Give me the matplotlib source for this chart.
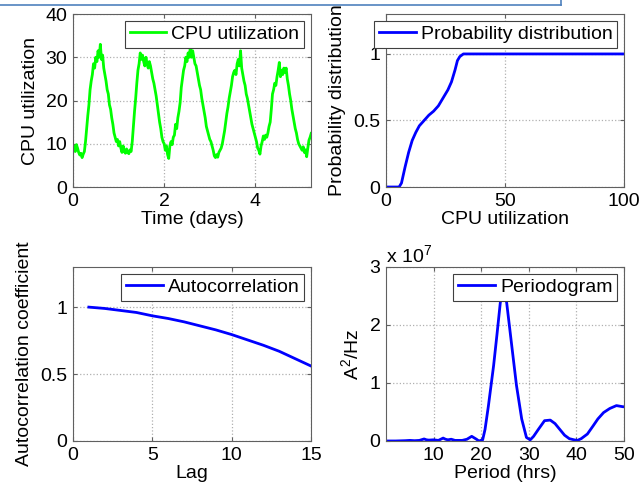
import numpy as np
import matplotlib.pyplot as plt
from matplotlib.lines import Line2D

plt.rcParams['font.family'] = ['Liberation Sans', 'DejaVu Sans']
plt.rcParams['font.size'] = 14
plt.rcParams['mathtext.fontset'] = 'custom'
plt.rcParams['mathtext.rm'] = 'Liberation Sans'

# CPU utilization trace, one sample every 0.025 days
sample_step_days = 0.025
cpu_util = [
    8.5, 9.5, 8.2, 9.8, 9.0, 8.0, 7.4, 7.8, 6.8, 7.6,
    8.2, 10.5, 13.5, 16.5, 19.0, 22.5, 24.5, 26.0, 28.5, 27.5,
    30.0, 29.0, 31.5, 30.0, 33.0, 29.5, 30.5, 27.5, 26.0, 24.5,
    22.5, 21.5, 19.0, 18.0, 16.0, 14.5, 12.5, 11.5, 10.5, 11.0,
    9.5, 10.5, 9.0, 8.0, 9.5, 8.2, 7.8, 8.8, 8.0, 7.7,
    8.6, 8.2, 10.5, 14.0, 17.5, 20.5, 24.0, 27.0, 28.5, 31.0,
    29.5, 30.5, 29.0, 28.0, 30.0, 28.5, 27.5, 29.0, 28.0, 26.5,
    25.0, 24.0, 22.5, 21.0, 19.0, 17.0, 15.0, 13.5, 11.5, 10.5,
    10.0, 8.5, 9.5, 7.5, 6.6, 9.5, 10.5, 9.8, 11.5, 12.0,
    14.5, 13.5, 16.0, 17.5, 19.5, 23.0, 25.0, 27.0, 28.0, 30.0,
    29.0, 31.0, 30.0, 32.5, 30.0, 31.5, 30.0, 28.5, 28.0, 26.5,
    25.0, 23.5, 22.5, 20.5, 19.0, 17.5, 16.0, 14.0, 13.0, 12.0,
    11.0, 10.5, 9.5, 8.5, 7.2, 6.8, 7.5, 6.9, 8.0, 8.5,
    9.0, 10.0, 11.5, 13.0, 15.0, 17.0, 18.5, 20.5, 22.0, 23.5,
    25.5, 26.5, 27.0, 26.0, 28.5, 29.5, 28.0, 31.5, 27.5, 26.0,
    24.5, 23.5, 21.5, 20.5, 19.0, 17.5, 16.0, 14.5, 13.5, 12.5,
    11.5, 10.5, 9.0, 8.5, 7.6, 9.5, 10.5, 11.8, 11.0, 12.0,
    11.5, 12.5, 14.0, 15.0, 18.0, 21.5, 22.5, 24.0, 23.5, 25.5,
    27.0, 28.8, 25.5, 27.0, 26.0, 27.5, 26.5, 27.5, 25.0, 23.5,
    21.5, 20.0, 18.0, 16.5, 15.0, 13.5, 12.5, 11.0, 10.0, 9.5,
    9.0, 8.5, 9.3, 8.0, 8.6, 7.0, 9.0, 10.8, 11.5, 12.4,
]

# Cumulative distribution of CPU utilization
cdf_levels = [0, 5.5, 6.5, 8, 9.5, 11, 12.5, 14, 16, 18, 20, 22, 24, 26,
              27.5, 29, 30, 31, 32.5, 34, 100]
cdf_values = [0, 0, 0.03, 0.15, 0.26, 0.35, 0.41, 0.46, 0.50, 0.54, 0.57,
              0.61, 0.67, 0.73, 0.79, 0.88, 0.95, 0.98, 1.0, 1.0, 1.0]

# Autocorrelation for lags 1..15
lags = list(range(1, 16))
acf = [1.0, 0.99, 0.975, 0.96, 0.935, 0.915, 0.89, 0.86, 0.83, 0.795,
       0.755, 0.715, 0.67, 0.615, 0.56]

# Periodogram (power in units of 1e7)
periods = [0.5, 2, 4, 5, 6, 7, 8, 8.5, 9, 10, 11, 12, 12.5, 13, 13.7, 14.5,
           16, 17, 18, 19, 19.5, 20.3, 20.8, 21.5, 22.6, 23.3, 24, 24.6,
           25.35, 26.4, 27.4, 28.5, 29.5, 30.3, 31, 32, 33.3, 34.5, 35.5,
           36.5, 37.5, 38.5, 39.5, 40.2, 41, 42.3, 43.5, 44.5, 45.7, 47,
           48.4, 49.8, 50]
power = [0, 0, 0.005, 0.01, 0.005, 0.01, 0.035, 0.02, 0.015, 0.02, 0.01,
         0.05, 0.03, 0.02, 0.03, 0.01, 0.01, 0.03, 0.08, 0.03, 0.0, 0.02,
         0.2, 0.6, 1.3, 1.83, 2.38, 2.65, 2.38, 1.65, 0.96, 0.38, 0.06,
         0.02, 0.08, 0.2, 0.35, 0.36, 0.3, 0.2, 0.1, 0.04, 0.02, 0.01,
         0.04, 0.12, 0.26, 0.38, 0.49, 0.56, 0.61, 0.59, 0.59]

times = np.arange(len(cpu_util)) * sample_step_days

fig = plt.figure(figsize=(6.39, 4.92), dpi=100)

ax1 = fig.add_axes([0.1142, 0.6199, 0.3725, 0.3516])
ax2 = fig.add_axes([0.6041, 0.6199, 0.3725, 0.3516])
ax3 = fig.add_axes([0.1142, 0.1037, 0.3725, 0.3537])
ax4 = fig.add_axes([0.6041, 0.1037, 0.3725, 0.3537])


def style(ax):
    ax.grid(True, linestyle=':', color='#b0b0b0', linewidth=0.9)
    ax.tick_params(direction='in', top=True, right=True, length=3,
                   color='#606060', pad=4)
    for s in ax.spines.values():
        s.set_color('#606060')
        s.set_linewidth(0.8)


def legend(ax):
    leg = ax.legend(loc='upper right', fancybox=False, framealpha=1,
                    edgecolor='#404040', borderpad=0.25, handlelength=1.9,
                    handletextpad=0.25, borderaxespad=0.35)
    leg.get_frame().set_linewidth(0.8)
    return leg


ax1.plot(times, cpu_util, color='#00ff00', linewidth=2, label='CPU utilization')
ax1.set_xlim(0, 5.22)
ax1.set_ylim(0, 40)
ax1.set_xticks([0, 2, 4])
ax1.set_yticks([0, 10, 20, 30, 40])
ax1.set_xlabel('Time (days)', labelpad=1)
ax1.set_ylabel('CPU utilization', labelpad=5)
style(ax1)
legend(ax1)

ax2.plot(cdf_levels, cdf_values, color='#0000ff', linewidth=2,
         label='Probability distribution')
ax2.set_xlim(0, 100)
ax2.set_ylim(0, 1.3)
ax2.set_xticks([0, 50, 100])
ax2.set_yticks([0, 0.5, 1])
ax2.set_yticklabels(['0', '0.5', '1'])
ax2.set_xlabel('CPU utilization', labelpad=1)
ax2.set_ylabel('Probability distribution', labelpad=5)
style(ax2)
legend(ax2)

ax3.plot(lags, acf, color='#0000ff', linewidth=2, label='Autocorrelation')
ax3.set_xlim(0, 15)
ax3.set_ylim(0, 1.3)
ax3.set_xticks([0, 5, 10, 15])
ax3.set_yticks([0, 0.5, 1])
ax3.set_yticklabels(['0', '0.5', '1'])
ax3.set_xlabel('Lag', labelpad=1)
ax3.set_ylabel('Autocorrelation coefficient', labelpad=5)
style(ax3)
legend(ax3)

ax4.plot(periods, power, color='#0000ff', linewidth=2, label='Periodogram')
ax4.set_xlim(0, 50)
ax4.set_ylim(0, 3)
ax4.set_xticks([10, 20, 30, 40, 50])
ax4.set_yticks([0, 1, 2, 3])
ax4.set_xlabel('Period (hrs)', labelpad=1)
ax4.set_ylabel('A$^2$/Hz', labelpad=5)
ax4.text(0, 1.0, 'x 10$^7$', transform=ax4.transAxes, ha='left',
         va='bottom')
style(ax4)
legend(ax4)

# slide text box border peeking in at the top
fig.add_artist(Line2D([0, 561 / 639], [1 - 5 / 492, 1 - 5 / 492],
                      transform=fig.transFigure, color='#4f81bd', linewidth=1.2))
fig.add_artist(Line2D([561 / 639, 561 / 639], [1 - 5 / 492, 1],
                      transform=fig.transFigure, color='#4f81bd', linewidth=1.2))

fig.savefig('out.png', dpi=100, facecolor='white')
